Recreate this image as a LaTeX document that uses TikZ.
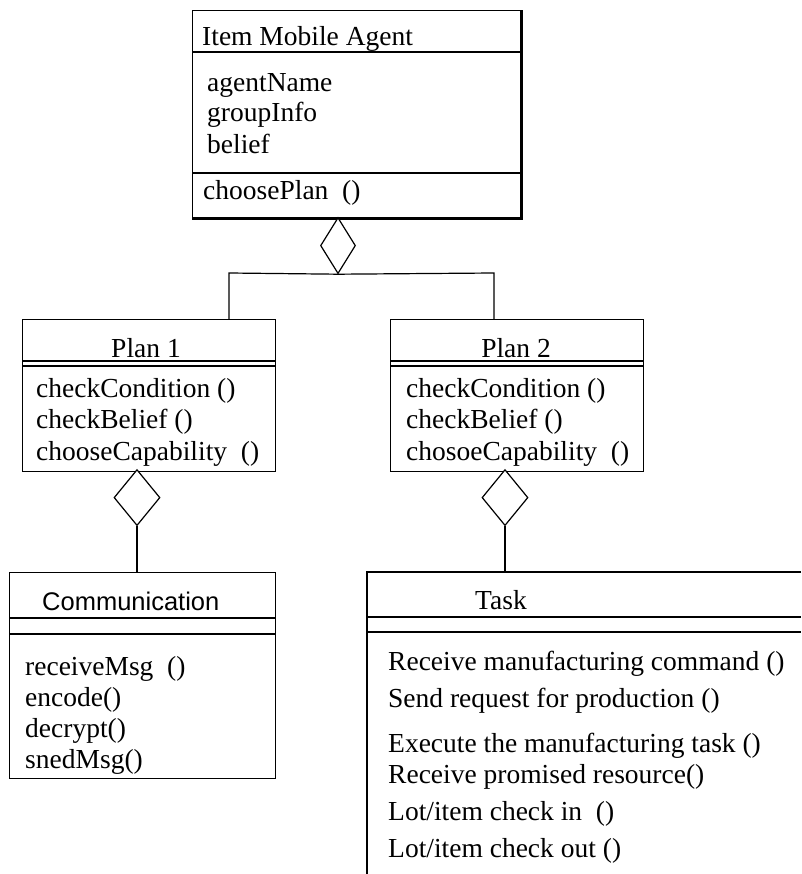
\documentclass[tikz,border=0pt]{standalone}
\usepackage{fontspec}
\setmainfont{Liberation Serif}
\newfontfamily\arialfont{Liberation Sans}
\usetikzlibrary{shapes.geometric}
\tikzset{
  umlbox/.style={draw, line width=1.3pt, rectangle, inner sep=0pt, anchor=north west},
  sepline/.style={line width=1.1pt},
  conn/.style={line width=1.2pt},
  aggdiamond/.style={draw, diamond, line width=1.2pt, inner sep=0pt, fill=white, anchor=north},
  txt/.style={anchor=base west, inner sep=0pt, font=\fontsize{27.5}{31}\selectfont},
  ctxt/.style={anchor=base, inner sep=0pt, font=\fontsize{27.5}{31}\selectfont},
  stxt/.style={anchor=base west, inner sep=0pt, font=\arialfont\fontsize{25.5}{30}\selectfont}
}
\begin{document}
\begin{tikzpicture}[x=1pt, y=-1pt]
\useasboundingbox (0,0) rectangle (801,874);

% ---- Item Mobile Agent ----
\node[umlbox, minimum width=328pt, minimum height=207pt] (agent) at (192,10) {};
\draw[line width=2.6pt] (agent.south west) -- (agent.south east) -- (agent.north east);
\draw[sepline] (192,52) -- (520,52);
\draw[sepline] (192,173) -- (520,173);
\node[txt] (agentT) at (202,46) {Item Mobile Agent};
\node[txt] (agentA1) at (207,92) {agentName};
\node[txt] (agentA2) at (207,122) {groupInfo};
\node[txt] (agentA3) at (207,154) {belief};
\node[txt] (agentM1) at (203,200) {choosePlan\ \ ()};

% aggregation to the two plans
\node[aggdiamond, minimum width=35pt, minimum height=56pt] (agg0) at (338,217) {};
\coordinate (j1) at (229,273);
\coordinate (j2) at (494,273);

% ---- Plan 1 ----
\node[umlbox, minimum width=253pt, minimum height=152pt] (plan1) at (22,319) {};
\draw[sepline] (22,361) -- (275,361);
\draw[sepline] (22,366) -- (275,366);
\node[ctxt] (plan1T) at (146,357) {Plan 1};
\node[txt] (plan1M1) at (36,397) {checkCondition ()};
\node[txt] (plan1M2) at (36,428) {checkBelief ()};
\node[txt] (plan1M3) at (36,460) {chooseCapability\ \ ()};

% ---- Plan 2 ----
\node[umlbox, minimum width=253pt, minimum height=152pt] (plan2) at (390,319) {};
\draw[sepline] (390,361) -- (643,361);
\draw[sepline] (390,366) -- (643,366);
\node[ctxt] (plan2T) at (516,357) {Plan 2};
\node[txt] (plan2M1) at (406,397) {checkCondition ()};
\node[txt] (plan2M2) at (406,428) {checkBelief ()};
\node[txt] (plan2M3) at (406,460) {chosoeCapability\ \ ()};

\draw[conn] (agg0.south) -- (j1) -- (j1 |- plan1.north);
\draw[conn] (agg0.south) -- (j2) -- (j2 |- plan2.north);

% aggregation diamonds below the plans
\node[aggdiamond, minimum width=46pt, minimum height=56pt] (agg1) at (137,469) {};
\node[aggdiamond, minimum width=46pt, minimum height=56pt] (agg2) at (505,469) {};

% ---- Communication ----
\node[umlbox, minimum width=266pt, minimum height=206pt] (comm) at (9,572) {};
\draw[sepline] (9,618) -- (275,618);
\draw[sepline] (9,634) -- (275,634);
\node[stxt] (commT) at (42,610) {Communication};
\node[txt] (commM1) at (25,675) {receiveMsg\ \ ()};
\node[txt] (commM2) at (25,706) {encode()};
\node[txt] (commM3) at (25,737) {decrypt()};
\node[txt] (commM4) at (25,768) {snedMsg()};

% ---- Task (runs past the right and lower edges) ----
\coordinate (task) at (367,572);
\draw[line width=1.3pt] (801,572) -- (task) -- (367,874);
\draw[sepline] (367,617) -- (801,617);
\draw[sepline] (367,632) -- (801,632);
\node[txt] (taskT) at (475,609) {Task};
\node[txt] (taskM1) at (388,670) {Receive manufacturing command ()};
\node[txt] (taskM2) at (388,707) {Send request for production ()};
\node[txt] (taskM3) at (388,752) {Execute the manufacturing task ()};
\node[txt] (taskM4) at (388,783) {Receive promised resource()};
\node[txt] (taskM5) at (388,820) {Lot/item check in\ \ ()};
\node[txt] (taskM6) at (388,857) {Lot/item check out ()};

\draw[conn] (agg1.south) -- (agg1.south |- comm.north);
\draw[conn] (agg2.south) -- (agg2.south |- task);
\end{tikzpicture}
\end{document}
